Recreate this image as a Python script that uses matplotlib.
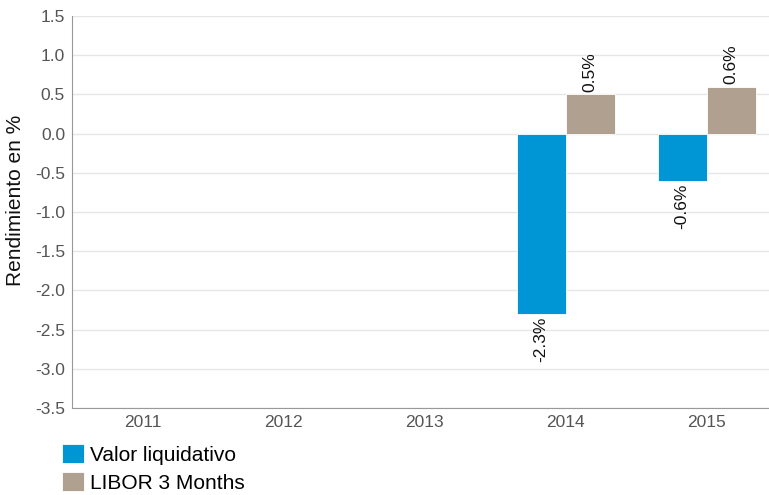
import numpy as np
import matplotlib.pyplot as plt

plt.rcParams['font.family'] = ['Liberation Sans', 'DejaVu Sans']

years = ['2011', '2012', '2013', '2014', '2015']
fund = [np.nan, np.nan, np.nan, -2.3, -0.6]
libor = [np.nan, np.nan, np.nan, 0.5, 0.6]
fund_name = 'Valor liquidativo'
libor_name = 'LIBOR 3 Months'

blue = '#0096d6'
tan = '#b0a08f'

fig = plt.figure(figsize=(7.69, 4.95), dpi=100)
# plot area runs a little past the right edge of the image, as in the original
ax = fig.add_axes([0.0936, 0.1758, 0.917, 0.792])

x = np.arange(len(years))
w = 0.347
b1 = ax.bar(x - w / 2, fund, w, color=blue, edgecolor='white', linewidth=0.6, label=fund_name, zorder=3)
b2 = ax.bar(x + w / 2, libor, w, color=tan, edgecolor='white', linewidth=0.6, label=libor_name, zorder=3)

# value labels, rotated like the original
for bars, vals in ((b1, fund), (b2, libor)):
    for rect, v in zip(bars, vals):
        if np.isnan(v):
            continue
        cx = rect.get_x() + rect.get_width() / 2
        ax.annotate(f'{v:.1f}%', (cx, v), xytext=(0, 2 if v >= 0 else -2),
                    textcoords='offset points', rotation=90, ha='center',
                    va='bottom' if v >= 0 else 'top', fontsize=12.5, color='#111111', zorder=4)

ax.set_xlim(-0.5, len(years) - 0.5)
ax.set_ylim(-3.5, 1.5)
ticks = np.arange(-3.5, 1.51, 0.5)
ax.set_yticks(ticks)
ax.set_yticklabels([f'{t:.1f}' for t in ticks])
ax.set_xticks(x)
ax.set_xticklabels(years)
ax.tick_params(length=0, labelsize=12.5, labelcolor='#555555', pad=5)
ax.grid(axis='y', color='#e6e6e6', linewidth=1, zorder=0)
for s in ('top', 'right'):
    ax.spines[s].set_visible(False)
for s in ('left', 'bottom'):
    ax.spines[s].set_color('#999999')
ax.set_ylabel('Rendimiento en %', fontsize=15, color='#111111')
ax.yaxis.set_label_coords(-47 / 705, 0.53)

ax.legend(loc='upper left', bbox_to_anchor=(0.081, 0.103), bbox_transform=fig.transFigure,
          frameon=False, fontsize=15, handlelength=1.05, handleheight=1.05,
          handletextpad=0.3, labelspacing=0.35, borderaxespad=0, borderpad=0)

fig.savefig('out.png', dpi=100)
